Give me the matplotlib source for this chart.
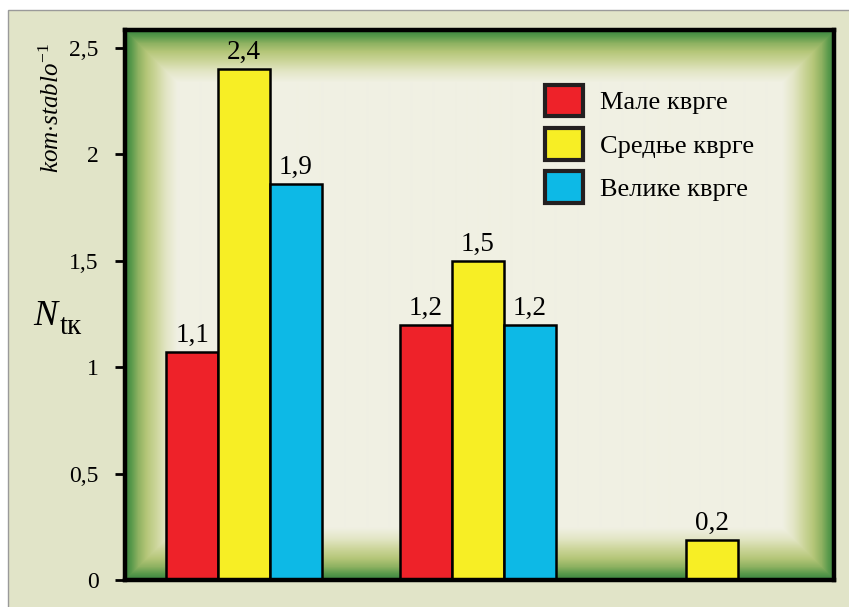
import numpy as np
import matplotlib
matplotlib.use("Agg")
import matplotlib.pyplot as plt
from matplotlib.patches import Rectangle
from matplotlib.colors import LinearSegmentedColormap

plt.rcParams['font.family'] = ['Liberation Serif', 'DejaVu Serif']
plt.rcParams['mathtext.fontset'] = 'custom'
plt.rcParams['mathtext.rm'] = 'Liberation Serif'
plt.rcParams['mathtext.it'] = 'Liberation Serif:italic'

# ---- data ----
series = ['Мале кврге', 'Средње кврге', 'Велике кврге']
male = [1.07, 1.2, np.nan]
srednje = [2.4, 1.5, 0.19]
velike = [1.86, 1.2, np.nan]
labels_male = ['1,1', '1,2', '']
labels_srednje = ['2,4', '1,5', '0,2']
labels_velike = ['1,9', '1,2', '']
yticks = [0, 0.5, 1, 1.5, 2, 2.5]
ytick_labels = ['0', '0,5', '1', '1,5', '2', '2,5']
colors = ['#ee2229', '#f7ee25', '#0db9e6']

W, H = 849, 607
fig = plt.figure(figsize=(W / 100, H / 100), dpi=100, facecolor='white')
fig.patches.append(Rectangle((8 / W, -0.1), 1.2, 1 - 10 / H + 0.1, transform=fig.transFigure,
                             facecolor='#e1e4c8', edgecolor='#9a9a9a', lw=1.0, zorder=-10))

axL, axR, axT, axB = 125, 834, 30, 580
ax = fig.add_axes([axL / W, 1 - axB / H, (axR - axL) / W, (axB - axT) / H])
ax.patch.set_alpha(0)

# bevel gradient background
pw, ph = axR - axL, axB - axT
xx = np.arange(pw)[None, :]
yy = np.arange(ph)[:, None]
d = np.minimum(np.minimum(xx, pw - 1 - xx), np.minimum(yy, ph - 1 - yy)).astype(float)
bev = 52.0
stops = [(0, '#3b8540'), (6 / bev, '#5a9a4c'), (13 / bev, '#8fb262'), (21 / bev, '#b4c678'),
         (31 / bev, '#cdd69c'), (41 / bev, '#e3e6c6'), (1.0, '#f0f0e3')]
cmap = LinearSegmentedColormap.from_list('bevel', stops)
ax.imshow(np.clip(d / bev, 0, 1), cmap=cmap, vmin=0, vmax=1, extent=(0, 1, 0, 1),
          transform=ax.transAxes, aspect='auto', zorder=0, interpolation='bilinear')

x = np.arange(3)
bw = 0.222
for off, vals, labs, c, name in [(-bw, male, labels_male, colors[0], series[0]),
                                 (0, srednje, labels_srednje, colors[1], series[1]),
                                 (bw, velike, labels_velike, colors[2], series[2])]:
    bars = ax.bar(x + off, vals, width=bw, color=c, edgecolor='black', linewidth=1.8,
                  label=name, zorder=2)
    ax.bar_label(bars, labels=labs, padding=3, fontsize=19.5)

ax.set_xlim(-0.5085, 2.521)
ax.set_ylim(0, 2.585)
ax.set_xticks([])
ax.set_yticks(yticks)
ax.set_yticklabels(ytick_labels, fontsize=17)
ax.tick_params(axis='y', direction='out', length=7, width=2, pad=12, colors='black')
for s in ax.spines.values():
    s.set_linewidth(3.2)
    s.set_color('black')
    s.set_zorder(5)

leg = ax.legend(loc='upper left', bbox_to_anchor=(545 / W, 1 - 85 / H), bbox_transform=fig.transFigure,
                frameon=False, fontsize=19, handlelength=1.45, handleheight=1.45,
                labelspacing=0.45, handletextpad=0.65, borderpad=0, borderaxespad=0)
for p in leg.get_patches():
    p.set_linewidth(3)
    p.set_edgecolor('#231f20')

# axis labels
fig.text(45 / W, 1 - 325 / H, 'N', fontsize=26, style='italic', ha='center', va='baseline')
fig.text(60 / W, 1 - 334 / H, 'tк', fontsize=21, ha='left', va='baseline')
fig.text(52 / W, 1 - 108 / H, r'$kom{\cdot}stablo^{-1}$', fontsize=18, rotation=90,
         ha='center', va='center')

fig.savefig('out.png', dpi=100)
